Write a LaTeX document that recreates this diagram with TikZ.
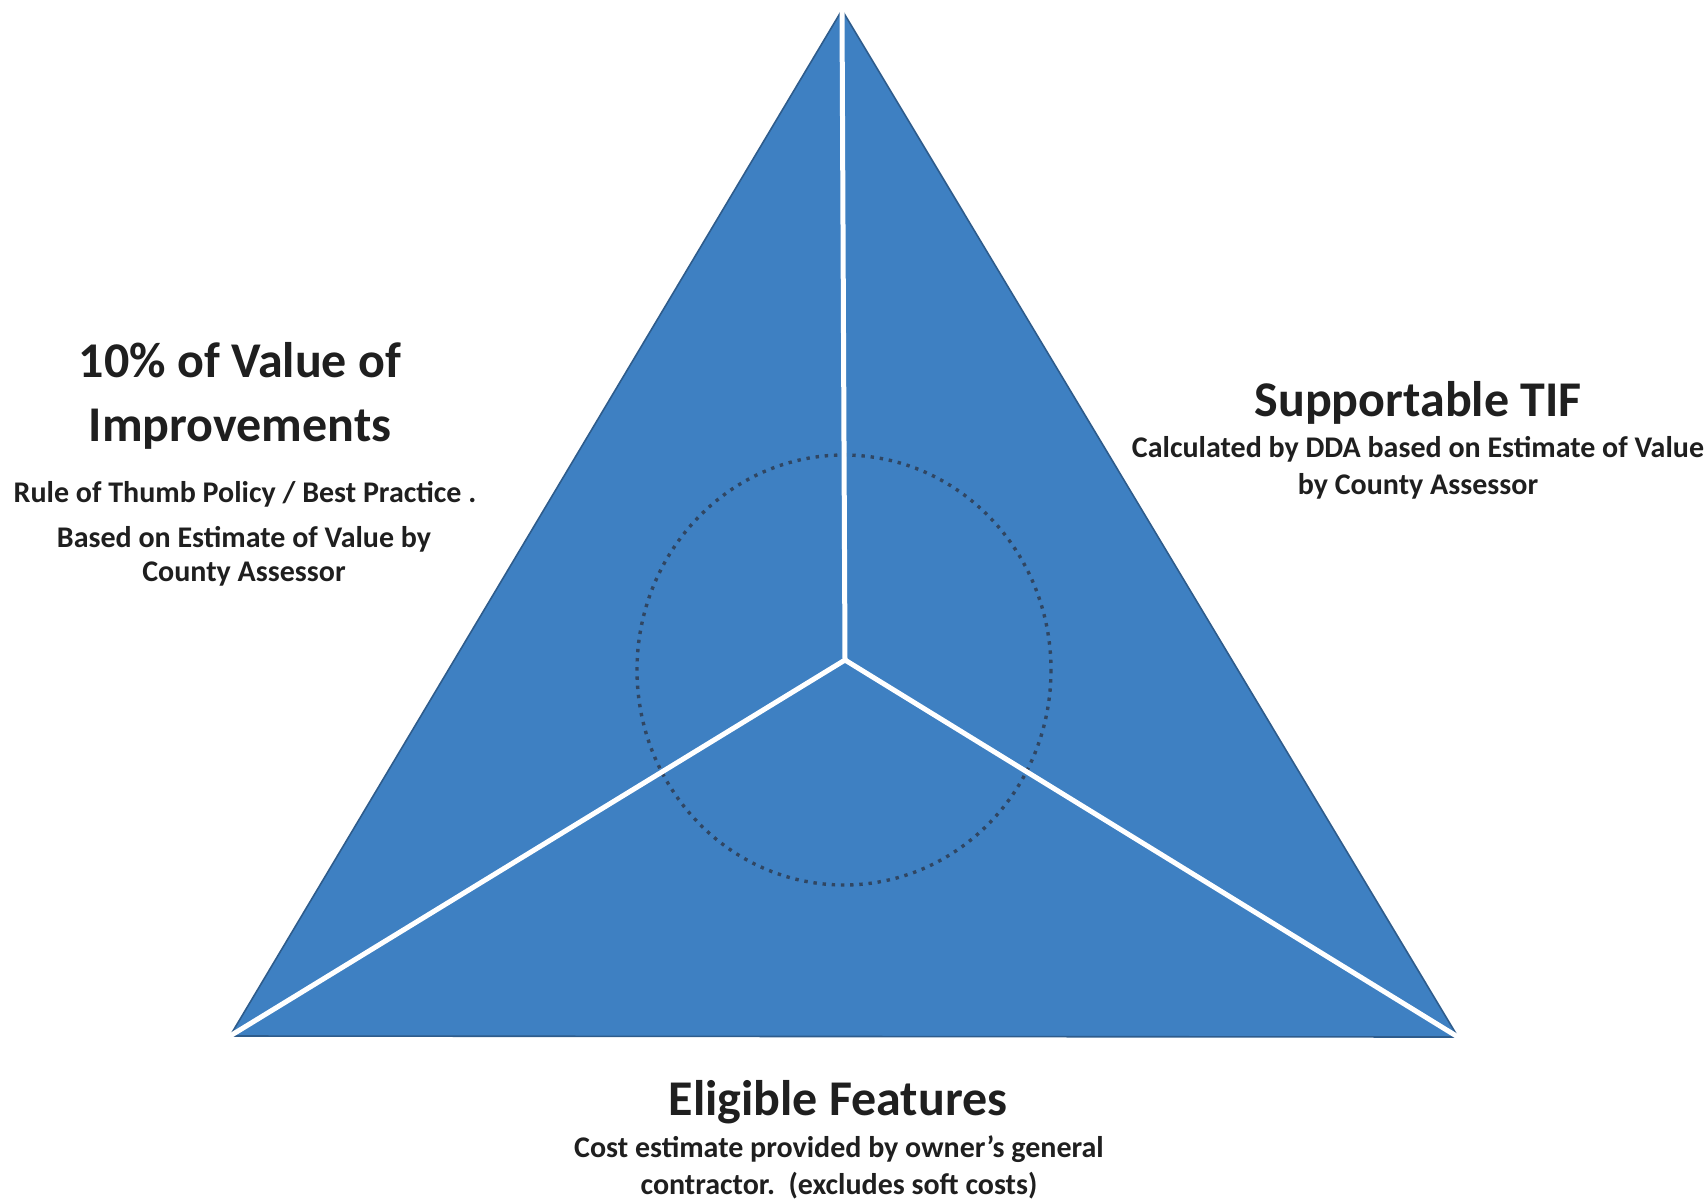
\documentclass[tikz,border=0pt]{standalone}
\usepackage{fontspec}
\setmainfont{Carlito}
\usepackage{tikz}
\usetikzlibrary{positioning}

\definecolor{facefill}{RGB}{62,128,194}
\definecolor{faceedge}{RGB}{46,92,140}
\definecolor{ringdots}{RGB}{48,70,98}

\begin{document}
\begin{tikzpicture}[x=0.5pt,y=-0.5pt,
    heading/.style={font=\fontsize{25}{32}\selectfont\bfseries, align=center, anchor=base, inner sep=0pt, text=black!88},
    remark/.style={font=\fontsize{15}{18.5}\selectfont\bfseries, align=center, anchor=base, inner sep=0pt, text=black!88},
    divider/.style={white, line width=2.5pt, line cap=round}]

    \useasboundingbox (0,0) rectangle (1708,1201);

    %corners
    \coordinate (apex) at (842,10);
    \coordinate (lft) at (230,1036);
    \coordinate (rgt) at (1458,1037);
    \coordinate (ctr) at (845,660);

    %triangle
    \fill[facefill] (apex) -- (rgt) -- (lft) -- cycle;
    \draw[faceedge, line width=0.8pt, line join=round] (apex) -- (rgt) -- (lft) -- cycle;

    %dotted ring
    \draw[ringdots, line width=1.7pt, dash pattern=on 1.7pt off 2.9pt]
    (844,670) ellipse [x radius=207, y radius=215];

    %spokes
    \foreach \c in {apex,lft,rgt}{
        \draw[divider] (ctr) -- (\c);
    }

    %left side (base = last line)
    \node[heading] (valtitle) at (240,441) {10\% of Value of\\Improvements};
    \node[remark] (valrule) at (245,502) {Rule of Thumb Policy / Best Practice .};
    \node[remark] (valbase) at (244,581) {Based on Estimate of Value by\\[-1.5pt]County Assessor};

    %right side
    \node[heading] (tiftitle) at (1418,416) {Supportable TIF};
    \node[remark] (tifnote) at (1418,494) {Calculated by DDA based on Estimate of Value\\by County Assessor};

    %bottom
    \node[heading] (feattitle) at (838,1115) {Eligible Features};
    \node[remark] (featnote) at (839,1194) {Cost estimate provided by owner’s general\\contractor.\ \ (excludes soft costs)};

\end{tikzpicture}
\end{document}
